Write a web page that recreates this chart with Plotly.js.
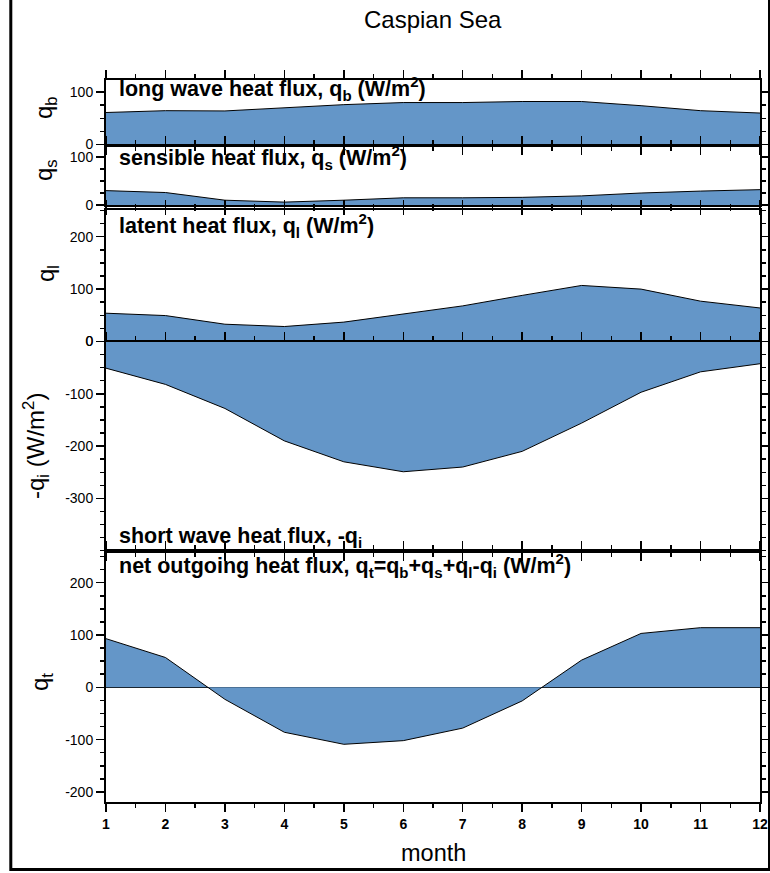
<!DOCTYPE html>
<html>
<head>
<meta charset="utf-8">
<script src="https://cdn.plot.ly/plotly-3.0.1.min.js"></script>
<style>html,body{margin:0;padding:0;background:#fff;}#chart{width:770px;height:873px;}</style>
</head>
<body>
<div id="chart"></div>
<script>
// ---- data (W/m^2) ----
const months = [1,2,3,4,5,6,7,8,9,10,11,12];
const xTickLabels = ['1','2','3','4','5','6','7','8','9','10','11','12'];
const qb    = [61, 64.5, 64, 70, 76, 80, 80, 82, 82, 74, 64.5, 60];
const qs    = [30, 26, 10, 6, 10, 15, 15, 16, 19, 25, 29, 32];
const ql    = [54, 49.5, 33, 28.6, 37, 53, 68, 88, 107, 100, 77, 64];
const negQi = [-51, -82, -128, -190, -230, -249, -240, -210, -156, -97, -58, -42.5];
const qt    = [93, 57, -23, -86, -109, -102, -78, -26, 52, 103, 114, 114];

// y tick values / labels per panel
const yTicksQb = [0, 100];
const yTicksQs = [0, 100];
const yTicksQl = [0, 100, 200];
const yTicksQi = [-300, -200, -100, 0];
const yTicksQt = [-200, -100, 0, 100, 200];

const panelLabels = [
  'long wave heat flux, q<sub>b</sub> (W/m<sup>2</sup>)',
  'sensible heat flux, q<sub>s</sub> (W/m<sup>2</sup>)',
  'latent heat flux, q<sub>l</sub> (W/m<sup>2</sup>)',
  'short wave heat flux, -q<sub>i</sub>',
  'net outgoing heat flux, q<sub>t</sub>=q<sub>b</sub>+q<sub>s</sub>+q<sub>l</sub>-q<sub>i</sub> (W/m<sup>2</sup>)'
];
const yTitles = ['q<sub>b</sub>','q<sub>s</sub>','q<sub>l</sub>','-q<sub>i</sub> (W/m<sup>2</sup>)','q<sub>t</sub>'];

// ---- layout geometry (pixels) ----
const W = 770, H = 873;
const L = 106, R = 10, T = 80, B = 71;
const PW = W - L - R, PH = H - T - B;
const px = x => (x - L) / PW;
const py = y => (H - B - y) / PH;

const FILL = '#6496c8';
const FONT = 'Liberation Sans, Arial, Helvetica, sans-serif';

const series = [qb, qs, ql, negQi, qt];
const yTicks = [yTicksQb, yTicksQs, yTicksQl, yTicksQi, yTicksQt];
const traces = series.map((v, i) => ({
  x: months, y: v, type: 'scatter', mode: 'lines',
  fill: 'tozeroy', fillcolor: FILL,
  line: {color: 'black', width: 1},
  xaxis: i === 0 ? 'x' : 'x' + (i + 1),
  yaxis: i === 0 ? 'y' : 'y' + (i + 1),
  hoverinfo: 'x+y', showlegend: false
}));

const domains = [
  [py(144.5), py(80)],
  [py(205), py(146)],
  [py(341.5), py(209.5)],
  [py(551), py(341.5)],
  [0, py(551)]
];
const yRanges = [[0,123],[0,123],[0,252],[-400.5,0],[-219.3,260.6]];

const layout = {
  width: W, height: H,
  margin: {l: L, r: R, t: T, b: B},
  paper_bgcolor: 'white', plot_bgcolor: 'white',
  font: {family: FONT, color: 'black', size: 13},
  showlegend: false,
  annotations: [],
  shapes: [{
    type: 'rect', xref: 'paper', yref: 'paper',
    x0: px(10.8), x1: px(769.5), y0: py(869.5), y1: py(-5),
    line: {color: 'black', width: 3}, fillcolor: 'rgba(0,0,0,0)', layer: 'above'
  }]
};

for (let i = 0; i < 5; i++) {
  const xn = i === 0 ? 'xaxis' : 'xaxis' + (i + 1);
  const yn = i === 0 ? 'yaxis' : 'yaxis' + (i + 1);
  const yid = i === 0 ? 'y' : 'y' + (i + 1);
  const xax = {
    anchor: yid, domain: [0, 1], range: [1, 12],
    tickmode: 'array', tickvals: months, ticktext: xTickLabels,
    ticks: 'outside', ticklen: 8, tickwidth: 1.5, tickcolor: 'black',
    minor: {dtick: 0.5, tick0: 1, ticks: 'outside', ticklen: 4, tickwidth: 1.5, tickcolor: 'black'},
    showline: true, linecolor: 'black', linewidth: 2, mirror: 'ticks',
    showgrid: false, zeroline: false,
    showticklabels: i === 4,
    tickfont: {family: FONT, size: 14, color: 'black', weight: 'bold'}
  };
  if (i > 0) xax.matches = 'x';
  if (i === 2) { xax.side = 'top'; xax.mirror = true; }
  layout[xn] = xax;
  layout[yn] = {
    anchor: i === 0 ? 'x' : 'x' + (i + 1),
    domain: domains[i], range: yRanges[i],
    tickmode: 'array', tickvals: yTicks[i], ticktext: yTicks[i].map(v => String(v)),
    ticks: 'outside', ticklen: 8, tickwidth: 1.5, tickcolor: 'black',
    minor: {tickmode: 'linear', dtick: 25, tick0: 0, ticks: 'outside', ticklen: 4, tickwidth: 1.5, tickcolor: 'black'},
    showline: true, linecolor: 'black', linewidth: 2, mirror: 'ticks',
    showgrid: false,
    zeroline: i === 4, zerolinecolor: 'black', zerolinewidth: 1,
    tickfont: {family: FONT, size: 14, color: 'black'}
  };
}

// panel labels
const labelY = [88, 158, 226, 537, 565];
panelLabels.forEach((t, i) => layout.annotations.push({
  text: '<b>' + t + '</b>', xref: 'paper', yref: 'paper',
  x: px(117), y: py(labelY[i]), xanchor: 'left', yanchor: 'middle',
  showarrow: false, font: {family: FONT, size: 21.5, color: 'black'}
}));

// y titles
const yTitleX = [46, 45, 47, 36, 41];
const yTitleY = [108, 170, 274, 446, 682];
yTitles.forEach((t, i) => layout.annotations.push({
  text: t, xref: 'paper', yref: 'paper',
  x: px(yTitleX[i]), y: py(yTitleY[i]), xanchor: 'center', yanchor: 'middle',
  textangle: -90, showarrow: false, font: {family: FONT, size: 24, color: 'black'}
}));

// title and x title
layout.annotations.push({
  text: 'Caspian Sea', xref: 'paper', yref: 'paper', x: px(433), y: py(20),
  xanchor: 'center', yanchor: 'middle', showarrow: false,
  font: {family: FONT, size: 24, color: 'black'}
});
layout.annotations.push({
  text: 'month', xref: 'paper', yref: 'paper', x: px(433), y: py(853),
  xanchor: 'center', yanchor: 'middle', showarrow: false,
  font: {family: FONT, size: 23.5, color: 'black'}
});

Plotly.newPlot('chart', traces, layout, {displayModeBar: false, staticPlot: true});
</script>
</body>
</html>
